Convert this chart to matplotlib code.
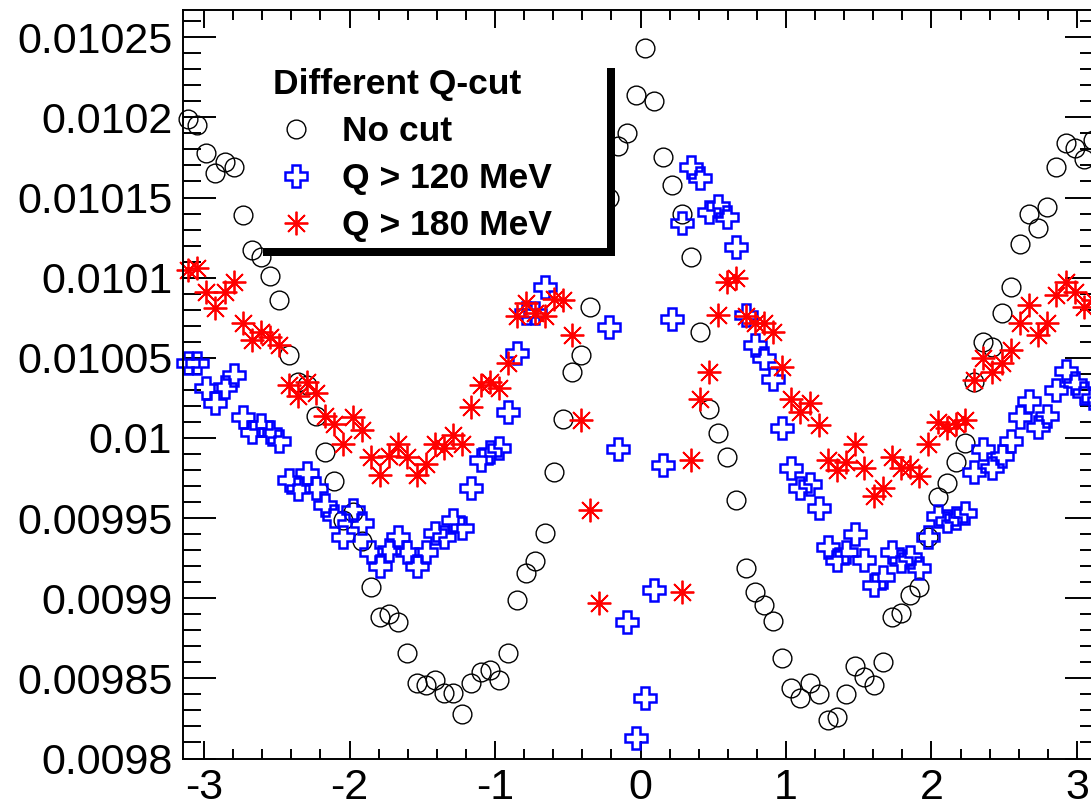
import numpy as np
import matplotlib.pyplot as plt
from matplotlib.ticker import MultipleLocator, FuncFormatter
from matplotlib.patches import Rectangle

plt.rcParams['font.family'] = ['Liberation Sans', 'DejaVu Sans']

# 100 phi bins between -pi and pi
nbins = 100
edges = np.linspace(-np.pi, np.pi, nbins + 1)
phi = 0.5 * (edges[:-1] + edges[1:])

no_cut = [
    0.010199, 0.010195, 0.010178, 0.010165, 0.010172, 0.010169, 0.010139, 0.010117, 0.010113, 0.010101,
    0.010086, 0.010052, 0.010035, 0.010033, 0.010014, 0.009991, 0.009973, 0.009949, 0.009954, 0.009936,
    0.009907, 0.009888, 0.009890, 0.009885, 0.009866, 0.009847, 0.009846, 0.009849, 0.009841, 0.009841,
    0.009828, 0.009847, 0.009854, 0.009855, 0.009849, 0.009866, 0.009899, 0.009916, 0.009923, 0.009941,
    0.009979, 0.010012, 0.010041, 0.010052, 0.010082, 0.010127, 0.010150, 0.010182, 0.010190, 0.010214,
    0.010243, 0.010210, 0.010175, 0.010158, 0.010140, 0.010113, 0.010066, 0.010018, 0.010003, 0.009988,
    0.009961, 0.009919, 0.009904, 0.009896, 0.009886, 0.009863, 0.009844, 0.009838, 0.009847, 0.009840,
    0.009824, 0.009826, 0.009840, 0.009858, 0.009851, 0.009846, 0.009860, 0.009888, 0.009891, 0.009902,
    0.009907, 0.009938, 0.009963, 0.009972, 0.009985, 0.009997, 0.010035, 0.010060, 0.010057, 0.010078,
    0.010094, 0.010121, 0.010140, 0.010131, 0.010144, 0.010169, 0.010184, 0.010181, 0.010174, 0.010186]

q120 = [
    0.010047, 0.010047, 0.010031, 0.010022, 0.010032, 0.010039, 0.010013, 0.010004, 0.010008, 0.010004,
    0.009998, 0.009974, 0.009968, 0.009978, 0.009969, 0.009958, 0.009951, 0.009938, 0.009955, 0.009947,
    0.009929, 0.009920, 0.009930, 0.009938, 0.009929, 0.009920, 0.009929, 0.009941, 0.009938, 0.009949,
    0.009944, 0.009969, 0.009986, 0.009991, 0.009994, 0.010016, 0.010053, 0.010078, 0.010078, 0.010094,
    0.010138, 0.010145, 0.010141, 0.010162, 0.010169, 0.010134, 0.010069, 0.009993, 0.009885, 0.009813,
    0.009838, 0.009905, 0.009983, 0.010074, 0.010134, 0.010169, 0.010162, 0.010141, 0.010145, 0.010138,
    0.010119, 0.010077, 0.010058, 0.010050, 0.010037, 0.010006, 0.009981, 0.009969, 0.009971, 0.009956,
    0.009932, 0.009924, 0.009929, 0.009940, 0.009924, 0.009908, 0.009913, 0.009929, 0.009923, 0.009926,
    0.009919, 0.009938, 0.009951, 0.009948, 0.009950, 0.009953, 0.009979, 0.009993, 0.009981, 0.009989,
    0.009998, 0.010013, 0.010023, 0.010007, 0.010014, 0.010030, 0.010042, 0.010034, 0.010028, 0.010025]

q180 = [
    0.010105, 0.010106, 0.010091, 0.010081, 0.010091, 0.010097, 0.010072, 0.010061, 0.010066, 0.010063,
    0.010058, 0.010033, 0.010026, 0.010035, 0.010028, 0.010014, 0.010009, 0.009996, 0.010013, 0.010005,
    0.009988, 0.009977, 0.009989, 0.009996, 0.009988, 0.009977, 0.009984, 0.009996, 0.009994, 0.010002,
    0.009996, 0.010019, 0.010033, 0.010035, 0.010031, 0.010047, 0.010076, 0.010084, 0.010078, 0.010076,
    0.010087, 0.010086, 0.010064, 0.010011, 0.009955, 0.009897, 0.009760, 0.009710, 0.009670, 0.009650,
    0.009660, 0.009680, 0.009720, 0.009770, 0.009904, 0.009986, 0.010024, 0.010041, 0.010077, 0.010097,
    0.010100, 0.010076, 0.010072, 0.010072, 0.010066, 0.010044, 0.010024, 0.010016, 0.010022, 0.010008,
    0.009986, 0.009980, 0.009985, 0.009996, 0.009981, 0.009964, 0.009969, 0.009988, 0.009981, 0.009982,
    0.009976, 0.009996, 0.010010, 0.010006, 0.010009, 0.010011, 0.010036, 0.010050, 0.010041, 0.010047,
    0.010055, 0.010072, 0.010083, 0.010064, 0.010072, 0.010089, 0.010097, 0.010091, 0.010082, 0.010086]

labels = ['No cut', 'Q > 120 MeV', 'Q > 180 MeV']
ymin, ymax = 0.0098, 0.010267

W, H = 1091, 807
fig = plt.figure(figsize=(W / 100, H / 100), dpi=100)
ax = fig.add_axes([183.4 / W, 48.5 / H, (1097.6 - 183.4) / W, 748.5 / H])

# ROOT does not draw points outside the frame, but does not clip markers at it
def shown(y):
    y = np.asarray(y)
    m = (y >= ymin) & (y <= ymax)
    return phi[m], y[m]

x, y = shown(no_cut)
ax.plot(x, y, ls='none', marker='o', ms=13.5, mfc='none', mec='black', mew=1.0,
        clip_on=False, zorder=2)
x, y = shown(q120)
ax.plot(x, y, ls='none', marker='P', ms=16, mfc='none', mec='blue', mew=1.8,
        clip_on=False, zorder=2.1)
x, y = shown(q180)
ax.plot(x, y, ls='none', marker=(8, 2, 0), ms=17, mec='red', mfc='red', mew=1.3,
        clip_on=False, zorder=2.2)

ax.set_xlim(-np.pi, np.pi)
ax.set_ylim(ymin, ymax)

ax.xaxis.set_major_locator(MultipleLocator(1))
ax.xaxis.set_minor_locator(MultipleLocator(0.2))
ax.yaxis.set_major_locator(MultipleLocator(0.00005))
ax.yaxis.set_minor_locator(MultipleLocator(0.00001))
ax.yaxis.set_major_formatter(FuncFormatter(lambda v, p: '%g' % round(v, 7)))
ax.xaxis.set_major_formatter(FuncFormatter(lambda v, p: '%g' % round(v, 5)))

ax.tick_params(which='both', direction='in', top=True, right=True, width=1.4,
               labelsize=31)
ax.tick_params(axis='x', which='major', length=13, pad=7)
ax.tick_params(axis='x', which='minor', length=7)
ax.tick_params(axis='y', which='major', length=24, pad=8)
ax.tick_params(axis='y', which='minor', length=13)
for s in ax.spines.values():
    s.set_linewidth(1.4)

# legend box with ROOT-like shadow
tf = fig.transFigure
ax.add_patch(Rectangle((263 / W, 1 - 248 / H), (607 - 263) / W, (248 - 68) / H,
                       transform=tf, facecolor='white', edgecolor='none',
                       clip_on=False, zorder=4))
ax.add_patch(Rectangle((607 / W, 1 - 256 / H), 8 / W, (256 - 68) / H,
                       transform=tf, facecolor='black', edgecolor='none',
                       clip_on=False, zorder=4))
ax.add_patch(Rectangle((263 / W, 1 - 256 / H), (615 - 263) / W, 8 / H,
                       transform=tf, facecolor='black', edgecolor='none',
                       clip_on=False, zorder=4))

handles = ax.get_lines()
leg = ax.legend(handles, labels, title='Different Q-cut', loc='upper left',
                bbox_to_anchor=(273 / W, 1 - 68 / H), bbox_transform=tf,
                frameon=False, prop={'weight': 'bold', 'size': 25.5},
                title_fontproperties={'weight': 'bold', 'size': 25.5},
                alignment='left', handlelength=1.3, handletextpad=0.64,
                labelspacing=0.4, borderpad=0, borderaxespad=0)
leg.set_zorder(5)

fig.savefig('out.png', dpi=100)
